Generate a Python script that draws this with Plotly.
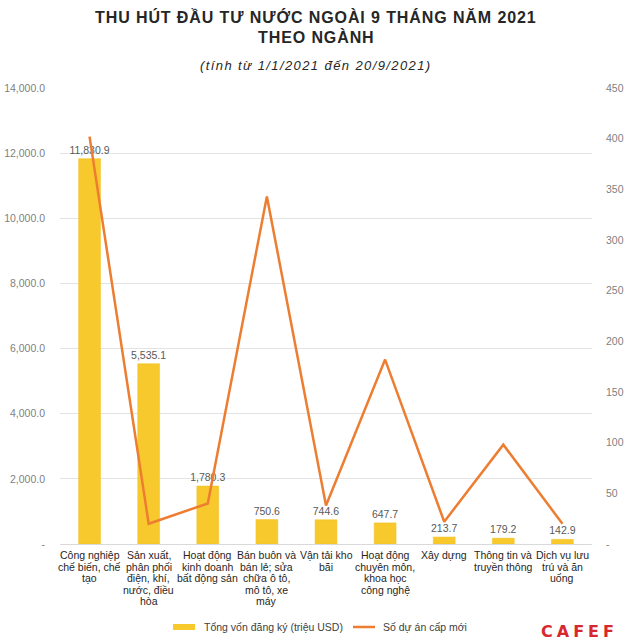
import plotly.graph_objects as go

categories = [
    "Công nghiệp<br>chế biến, chế<br>tạo",
    "Sản xuất,<br>phân phối<br>điện, khí,<br>nước, điều<br>hòa",
    "Hoạt động<br>kinh doanh<br>bất động sản",
    "Bán buôn và<br>bán lẻ; sửa<br>chữa ô tô,<br>mô tô, xe<br>máy",
    "Vận tải kho<br>bãi",
    "Hoạt động<br>chuyên môn,<br>khoa học<br>công nghệ",
    "Xây dựng",
    "Thông tin và<br>truyền thông",
    "Dịch vụ lưu<br>trú và ăn<br>uống",
]
capital = [11830.9, 5535.1, 1780.3, 750.6, 744.6, 647.7, 213.7, 179.2, 142.9]
projects = [402, 20, 40, 343, 38, 182, 22, 98, 20]

left_ticks = [0, 2000, 4000, 6000, 8000, 10000, 12000, 14000]
left_ticktext = ["-", "2,000.0", "4,000.0", "6,000.0", "8,000.0", "10,000.0", "12,000.0", "14,000.0"]
right_ticks = [0, 50, 100, 150, 200, 250, 300, 350, 400, 450]
right_ticktext = ["-", "50", "100", "150", "200", "250", "300", "350", "400", "450"]

bar_name = "Tổng vốn đăng ký (triệu USD)"
line_name = "Số dự án cấp mới"
BAR_COLOR = "#F7C92C"
LINE_COLOR = "#ED7D31"
FONT = "Liberation Sans, Arial, sans-serif"

W, H = 630, 641
ML, MR, MT, MB = 60, 38, 88, 97
PH = H - MT - MB
PW = W - ML - MR


def py(pixel_y):
    return (H - MB - pixel_y) / PH


def px(pixel_x):
    return (pixel_x - ML) / PW


fig = go.Figure()
fig.add_trace(go.Bar(
    x=list(range(len(categories))), y=capital, name=bar_name, showlegend=False,
    marker=dict(color=BAR_COLOR, line=dict(color="#F2C024", width=0.5)),
    text=[f"{v:,.1f}" for v in capital], textposition="outside",
    constraintext="none",
    textfont=dict(size=10.5, color="#595959", family=FONT),
    cliponaxis=False,
))
fig.add_trace(go.Scatter(
    x=list(range(len(categories))), y=projects, name=line_name, yaxis="y2", mode="lines",
    line=dict(color=LINE_COLOR, width=2.5), showlegend=False,
))

annotations = []
# category labels, one annotation per line for tight line spacing
for i, cat in enumerate(categories):
    for j, part in enumerate(cat.split("<br>")):
        annotations.append(dict(
            text=part, x=i, xref="x", y=py(555 + j * 11.5), yref="paper",
            xanchor="center", yanchor="middle", showarrow=False,
            font=dict(size=10.5, color="#262626", family=FONT)))

title_font = dict(size=16, color="#262626", family=FONT)
annotations += [
    dict(text='<b><span style="letter-spacing:0.9px">THU HÚT ĐẦU TƯ NƯỚC NGOÀI 9 THÁNG NĂM 2021</span></b>',
         xref="paper", yref="paper", x=px(316), y=py(17), xanchor="center", yanchor="middle",
         showarrow=False, font=title_font),
    dict(text='<b><span style="letter-spacing:0.9px">THEO NGÀNH</span></b>',
         xref="paper", yref="paper", x=px(316), y=py(37), xanchor="center", yanchor="middle",
         showarrow=False, font=title_font),
    dict(text='<i><span style="letter-spacing:1.4px">(tính từ 1/1/2021 đến 20/9/2021)</span></i>',
         xref="paper", yref="paper", x=px(316), y=py(66), xanchor="center", yanchor="middle",
         showarrow=False, font=dict(size=13, color="#262626", family=FONT)),
    # legend texts
    dict(text=bar_name, xref="paper", yref="paper", x=px(202), y=py(627),
         xanchor="left", yanchor="middle", showarrow=False,
         font=dict(size=10.5, color="#404040", family=FONT)),
    dict(text=line_name, xref="paper", yref="paper", x=px(381), y=py(627),
         xanchor="left", yanchor="middle", showarrow=False,
         font=dict(size=10.5, color="#404040", family=FONT)),
    dict(text='<b><span style="letter-spacing:4px">CAFEF</span></b>',
         xref="paper", yref="paper", x=px(579), y=py(631), xanchor="center", yanchor="middle",
         showarrow=False, font=dict(size=16, color="#D7282F", family="DejaVu Sans, sans-serif")),
]

shapes = [
    dict(type="rect", xref="paper", yref="paper", x0=px(173), x1=px(195), y0=py(630), y1=py(624),
         fillcolor=BAR_COLOR, line=dict(width=0)),
    dict(type="line", xref="paper", yref="paper", x0=px(353), x1=px(375), y0=py(627), y1=py(627),
         line=dict(color=LINE_COLOR, width=2.5)),
]

fig.update_layout(
    width=W, height=H,
    margin=dict(l=ML, r=MR, t=MT, b=MB, autoexpand=False),
    paper_bgcolor="white", plot_bgcolor="white",
    font=dict(family=FONT, color="#404040"),
    bargap=0.63,
    showlegend=False,
    xaxis=dict(showline=True, linecolor="#D9D9D9", linewidth=1, ticks="",
               showticklabels=False, showgrid=False, automargin=False,
               range=[-0.5, len(categories) - 0.5]),
    yaxis=dict(range=[0, 14000], tickvals=left_ticks, ticktext=left_ticktext,
               showgrid=True, gridcolor="#E3E3E3", gridwidth=1, zeroline=False,
               tickfont=dict(size=10.5, color="#7F7F7F", family=FONT),
               ticklabelstandoff=14, automargin=False),
    yaxis2=dict(range=[0, 450], tickvals=right_ticks, ticktext=right_ticktext,
                overlaying="y", side="right", showgrid=False, zeroline=False,
                tickfont=dict(size=10.5, color="#7F7F7F", family=FONT),
                ticklabelstandoff=13, automargin=False),
    annotations=annotations,
    shapes=shapes,
)

fig.write_html("out.html")
